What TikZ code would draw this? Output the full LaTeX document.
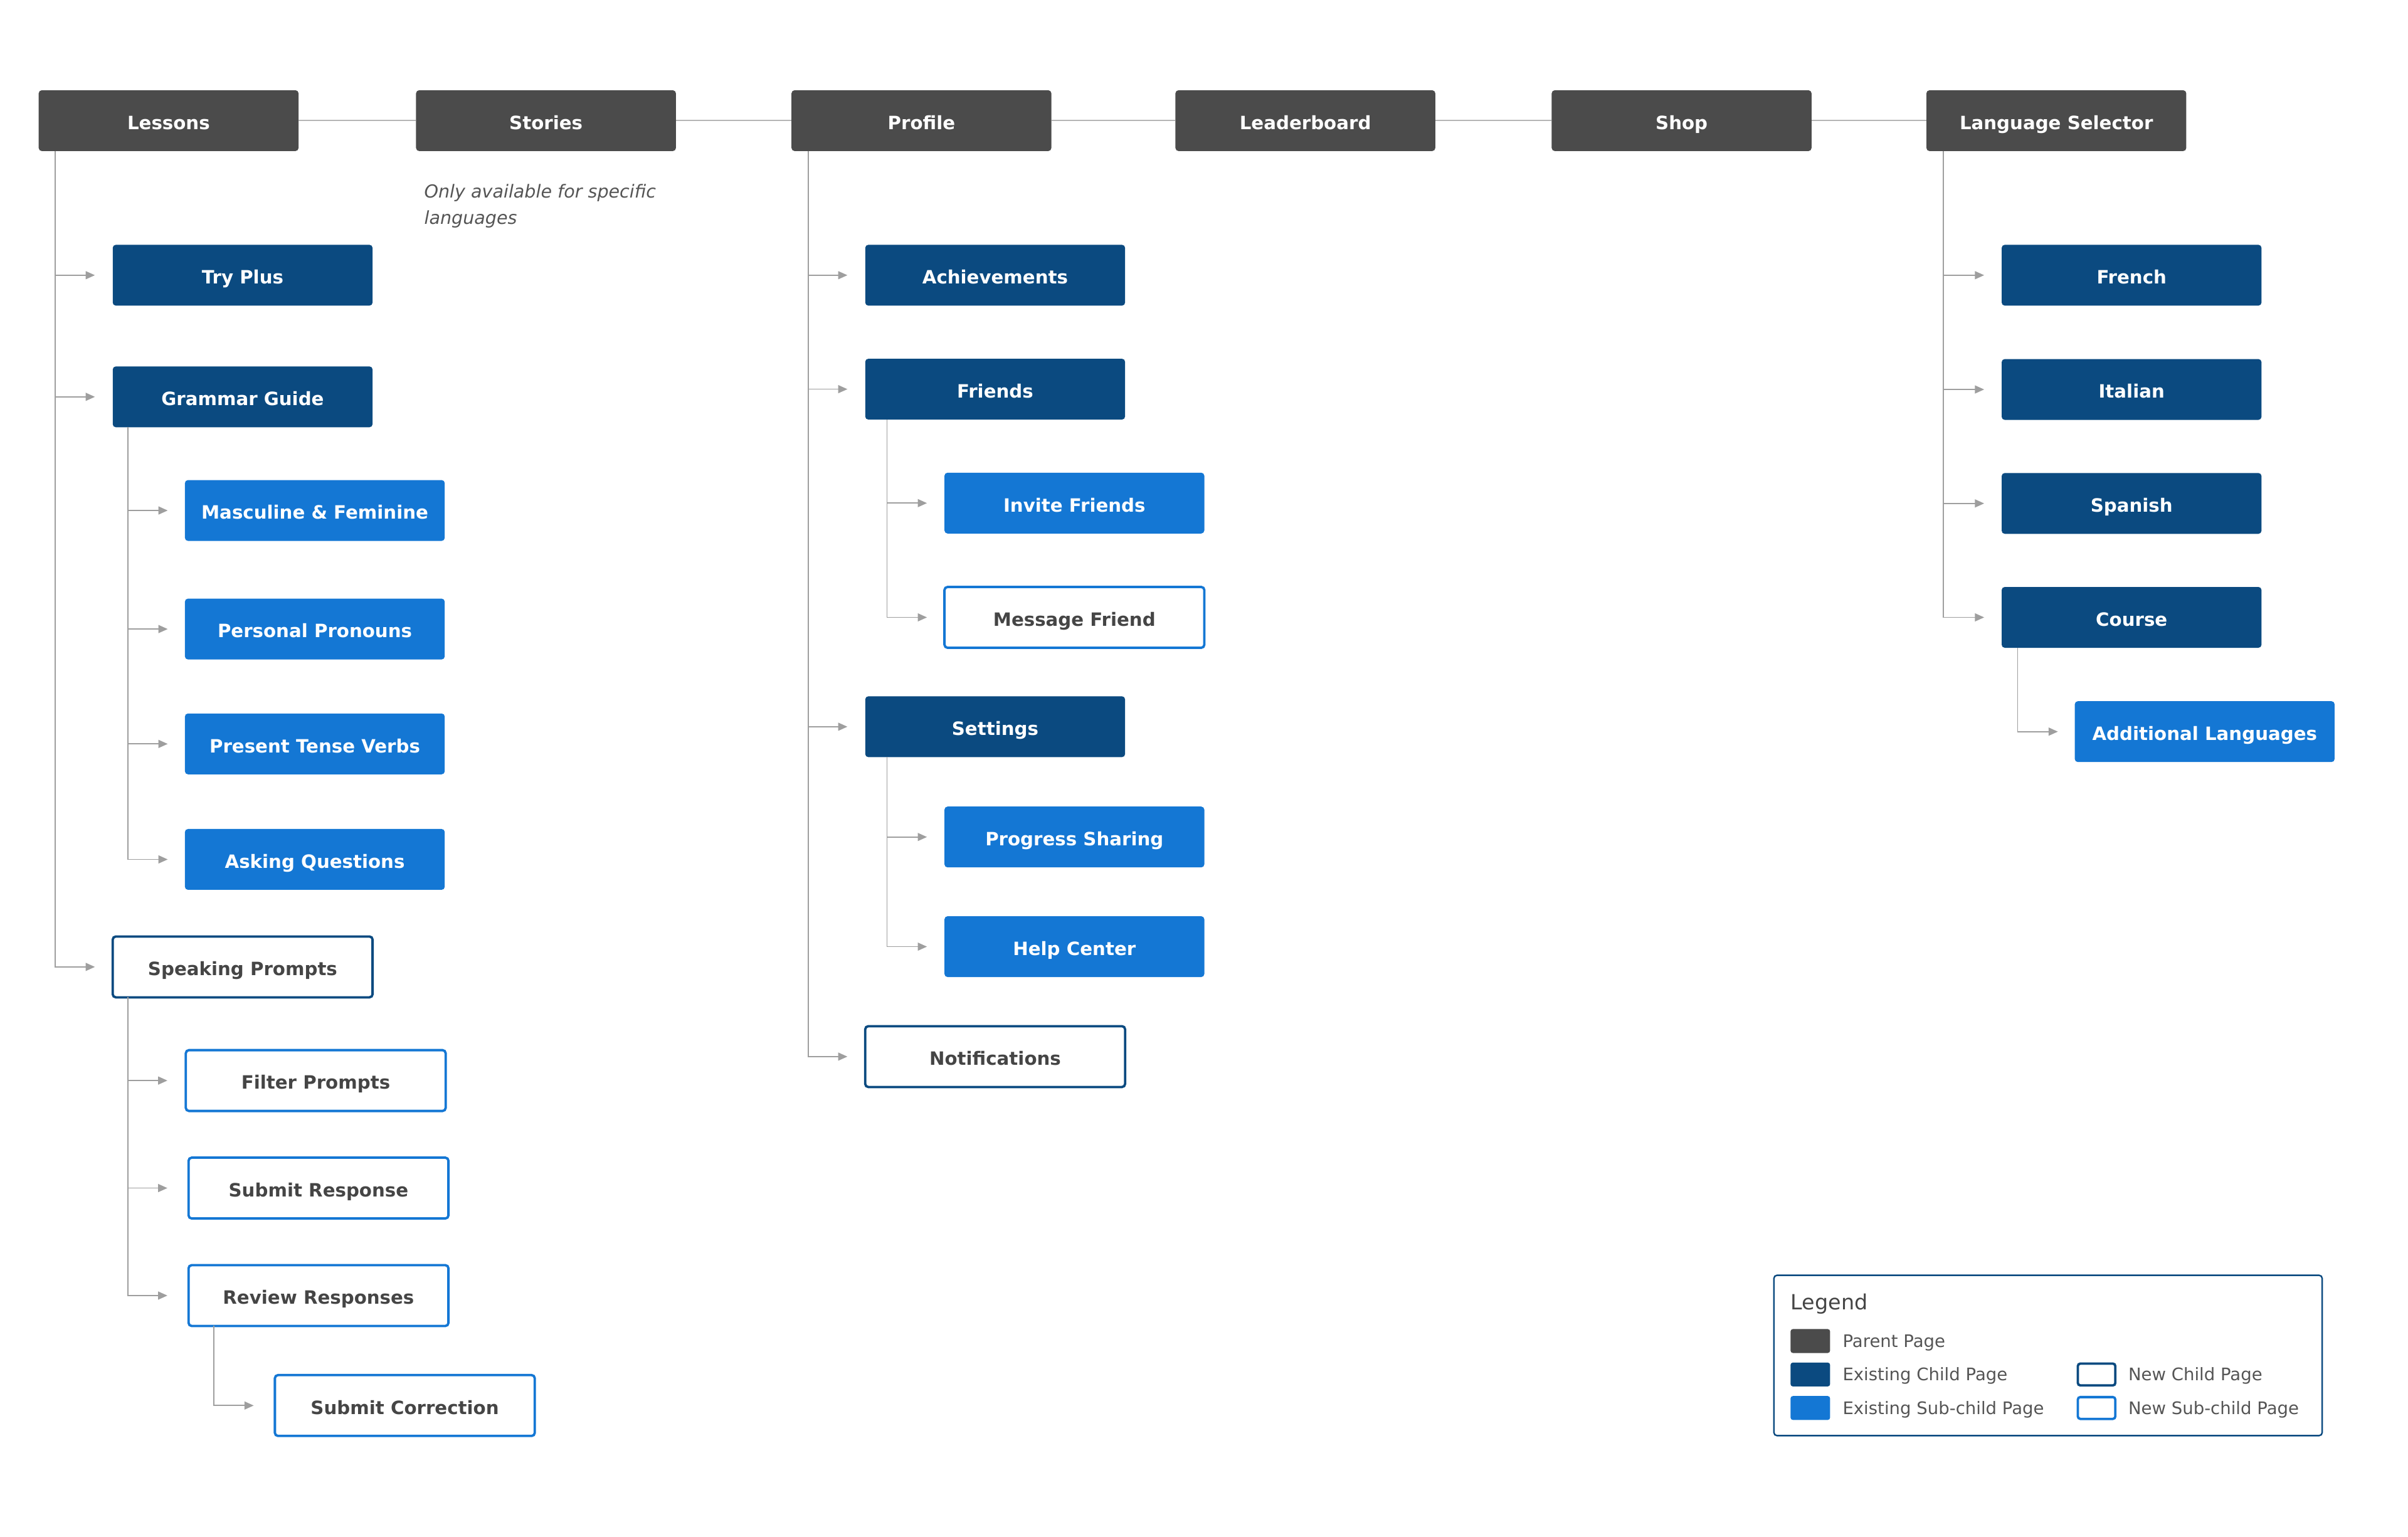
\documentclass[tikz,border=0pt]{standalone}
\usepackage{fontspec}
\setmainfont{DejaVu Sans}
\usetikzlibrary{arrows.meta}
\definecolor{parentgray}{HTML}{4B4B4B}
\definecolor{childblue}{HTML}{0B4A80}
\definecolor{subblue}{HTML}{1477D4}
\definecolor{linkgray}{HTML}{9E9E9E}
\definecolor{trunkgray}{HTML}{B5B5B5}
\definecolor{darktext}{HTML}{454545}
\definecolor{notegray}{HTML}{555555}

\begin{document}
\begin{tikzpicture}[
        page/.style = {rectangle, rounded corners = .05cm, minimum width = 4.23cm, minimum height = .99cm,
                inner sep = 0pt, outer sep = 0pt, text height = .28cm, text depth = 0pt,
                font = \fontsize{8.5}{10}\selectfont\bfseries},
        parent/.style = {page, fill = parentgray, text = white},
        child/.style = {page, fill = childblue, text = white},
        subchild/.style = {page, fill = subblue, text = white},
        newchild/.style = {page, fill = white, draw = childblue, line width = 1.1pt, text = darktext},
        newsub/.style = {page, fill = white, draw = subblue, line width = 1.1pt, text = darktext},
        trunk/.style = {trunkgray, line width = .6pt},
        link/.style = {linkgray, line width = .5pt, -{Triangle[length = .15cm, width = .13cm]}, shorten > = .29cm},
        note/.style = {align = left, inner sep = 0pt, text = notegray, font = \fontsize{8.3}{12.3}\selectfont\itshape},
        swatch/.style = {rectangle, rounded corners = .04cm, minimum width = .645cm, minimum height = .39cm, inner sep = 0pt},
        keytext/.style = {anchor = west, inner sep = 0pt, text height = .206cm, text depth = 0pt, text = notegray,
                font = \fontsize{8}{10}\selectfont},
        keytitle/.style = {anchor = west, inner sep = 0pt, text height = .25cm, text depth = 0pt, text = darktext,
                font = \fontsize{9.7}{12}\selectfont},
        legendframe/.style = {rectangle, draw = childblue, line width = .7pt, rounded corners = .05cm, inner sep = 0pt}
        ]
        \fill[white] (0, 0) rectangle (39.2, -25.02);

        \node[parent] (lessons) at (2.745, -1.964) {Lessons};
        \node[parent] (stories) at (8.888, -1.964) {Stories};
        \node[parent] (profile) at (15.0, -1.964) {Profile};
        \node[parent] (leaderboard) at (21.25, -1.964) {Leaderboard};
        \node[parent] (shop) at (27.375, -1.964) {Shop};
        \node[parent] (langsel) at (33.475, -1.964) {Language Selector};
        \foreach \a/\b in {lessons/stories, stories/profile, profile/leaderboard, leaderboard/shop, shop/langsel}
        \draw[trunk] (\a) -- (\b);

        \node[note, anchor = north west] (storiesnote) at (6.9, -2.99) {Only available for specific\\languages};

        \node[child] (tryplus) at (3.95, -4.48) {Try Plus};
        \node[child] (grammar) at (3.95, -6.46) {Grammar Guide};
        \node[subchild] (gender) at (5.125, -8.31) {Masculine \& Feminine};
        \node[subchild] (pronouns) at (5.125, -10.24) {Personal Pronouns};
        \node[subchild] (verbs) at (5.125, -12.11) {Present Tense Verbs};
        \node[subchild] (questions) at (5.125, -13.99) {Asking Questions};
        \node[newchild] (speaking) at (3.95, -15.74) {Speaking Prompts};
        \node[newsub] (filter) at (5.14, -17.59) {Filter Prompts};
        \node[newsub] (submit) at (5.185, -19.34) {Submit Response};
        \node[newsub] (review) at (5.185, -21.09) {Review Responses};
        \node[newsub] (correction) at (6.59, -22.88) {Submit Correction};
        \foreach \c in {tryplus, grammar, speaking}
        \draw[link] ([xshift = .265cm]lessons.south west) |- (\c);
        \foreach \c in {gender, pronouns, verbs, questions}
        \draw[link, shorten > = .28cm] ([xshift = .25cm]grammar.south west) |- (\c);
        \foreach \c/\g in {filter/.3cm, submit/.345cm, review/.345cm}
        \draw[link, shorten > = \g] ([xshift = .25cm]speaking.south west) |- (\c);
        \draw[link, shorten > = .345cm] ([xshift = .41cm]review.south west) |- (correction);

        \node[child] (achieve) at (16.2, -4.48) {Achievements};
        \node[child] (friends) at (16.2, -6.335) {Friends};
        \node[subchild] (invite) at (17.49, -8.19) {Invite Friends};
        \node[newsub] (message) at (17.49, -10.05) {Message Friend};
        \node[child] (settings) at (16.2, -11.83) {Settings};
        \node[subchild] (sharing) at (17.49, -13.625) {Progress Sharing};
        \node[subchild] (help) at (17.49, -15.41) {Help Center};
        \node[newchild] (notify) at (16.2, -17.2) {Notifications};
        \foreach \c in {achieve, friends, settings, notify}
        \draw[link] ([xshift = .27cm]profile.south west) |- (\c);
        \foreach \c in {invite, message}
        \draw[link, shorten > = .285cm] ([xshift = .355cm]friends.south west) |- (\c);
        \foreach \c in {sharing, help}
        \draw[link, shorten > = .285cm] ([xshift = .355cm]settings.south west) |- (\c);

        \node[child] (french) at (34.7, -4.48) {French};
        \node[child] (italian) at (34.7, -6.34) {Italian};
        \node[child] (spanish) at (34.7, -8.195) {Spanish};
        \node[child] (course) at (34.7, -10.05) {Course};
        \node[subchild] (extralang) at (35.89, -11.91) {Additional Languages};
        \foreach \c in {french, italian, spanish, course}
        \draw[link, shorten > = .285cm] ([xshift = .275cm]langsel.south west) |- (\c);
        \draw[link, shorten > = .275cm] ([xshift = .26cm]course.south west) |- (extralang);

        \node[legendframe, minimum width = 8.925cm, minimum height = 2.61cm] (legend) at (33.34, -22.065) {};
        \node[keytitle] (legendtitle) at (29.145, -21.19) {Legend};
        \node[swatch, fill = parentgray] (keyparent) at (29.47, -21.83) {};
        \node[swatch, fill = childblue] (keychild) at (29.47, -22.375) {};
        \node[swatch, fill = subblue] (keysub) at (29.47, -22.92) {};
        \node[swatch, draw = childblue, line width = 1.1pt, minimum width = .61cm, minimum height = .355cm] (keynewchild) at (34.13, -22.375) {};
        \node[swatch, draw = subblue, line width = 1.1pt, minimum width = .61cm, minimum height = .355cm] (keynewsub) at (34.13, -22.92) {};
        \node[keytext] at (29.99, -21.83) {Parent Page};
        \node[keytext] at (29.99, -22.375) {Existing Child Page};
        \node[keytext] at (29.99, -22.92) {Existing Sub-child Page};
        \node[keytext] at (34.64, -22.375) {New Child Page};
        \node[keytext] at (34.64, -22.92) {New Sub-child Page};
        \end{tikzpicture}
\end{document}
